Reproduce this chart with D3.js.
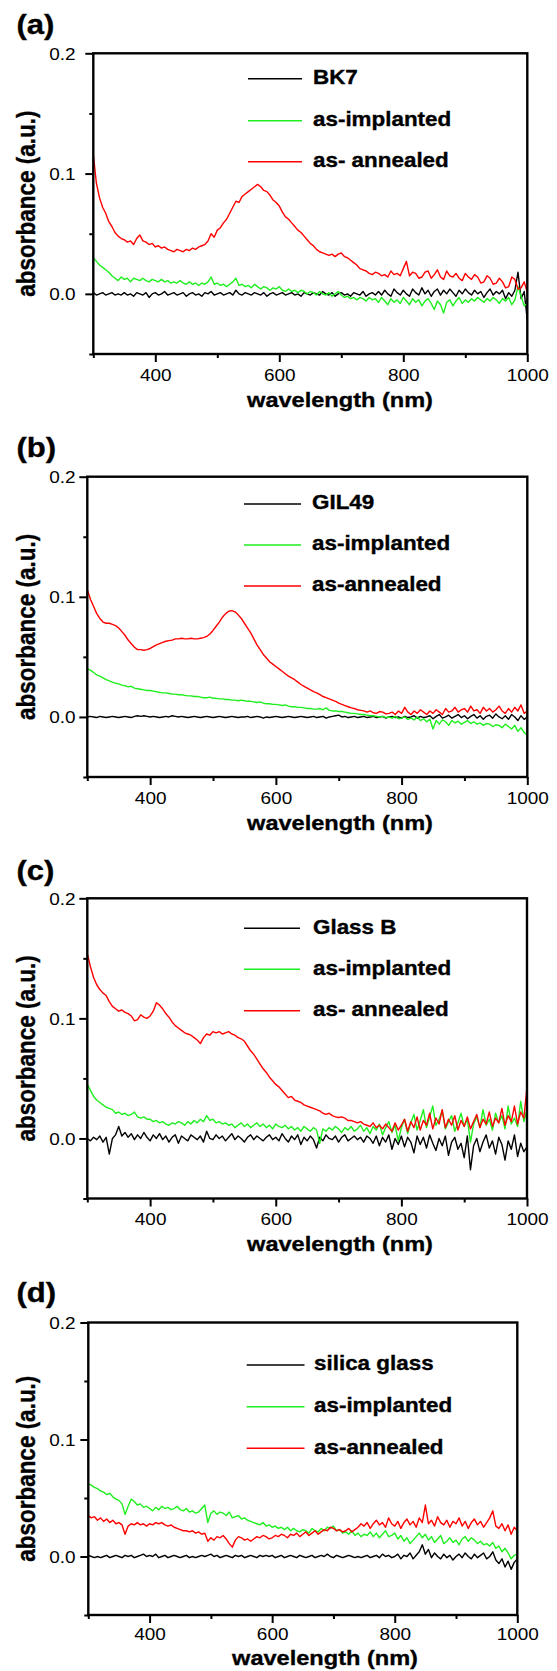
<!DOCTYPE html>
<html><head><meta charset="utf-8">
<script src="https://cdn.jsdelivr.net/npm/d3@7"></script>
<style>
body{margin:0;background:#fff}
svg{display:block}
text{font-family:"Liberation Sans",Arial,Helvetica,sans-serif;fill:#000}
text.heavy{stroke:#000;stroke-width:0.35px}
</style>
</head><body>
<div id="chart"></div>
<script>
// ---------------- DATA ----------------
// wavelength grid (nm), 300..1000 in 5 nm steps
const wavelengths = d3.range(300, 1001, 5);
const xTicksMajor = [400, 600, 800, 1000];
const xTicksMinor = [300, 500, 700, 900];
const yTicksMajor = [0, 0.1, 0.2];
const yTickLabels = ["0.0", "0.1", "0.2"];
const yTicksMinor = [-0.05, 0.05, 0.15];
const panelLetters = ["(a)", "(b)", "(c)", "(d)"];
const legendA = ["BK7", "as-implanted", "as- annealed"];
const legendB = ["GIL49", "as-implanted", "as-annealed"];
const legendC = ["Glass B", "as-implanted", "as- annealed"];
const legendD = ["silica glass", "as-implanted", "as-annealed"];
const xTitle = "wavelength (nm)";
const yTitle = "absorbance (a.u.)";

// absorbance values in units of 10^-3 (a.u.)
const aBlack = [1,-1,0,1,-1,0,1,-1,0,-1, 1,-1,0,-2,1,0,-1,1,-3,0, 1,-1,0,2,-1,0,1,-1,0,1, -2,0,1,-1,0,-2,1,0,2,-1,
  0,1,-1,0,1,-1,3,0,-1,1, 0,-1,1,0,-1,1,-2,0,1,-1, 0,1,-1,0,1,-1,0,-2,1,0, -1,1,0,-1,2,0,-1,1,-2,0,
  1,-1,0,-2,1,0,-1,2,-2,0, 1,-1,2,-1,3,0,-2,4,1,-1, 3,0,-2,4,1,-1,5,0,3,-2, 2,4,-1,3,0,4,1,-2,3,0,
  4,1,-1,3,0,2,-3,1,4,-1, 2,0,3,-4,1,-2,3,18,-4,2, -22];
const aGreen = [30,27,24,22,20,18,15,13,11,14, 12,13,10,13,12,11,13,11,10,12, 11,10,12,10,11,9,10,9,11,9, 8,10,8,9,7,9,8,10,14,8,
  9,7,8,6,8,10,13,7,8,6, 7,5,8,6,4,6,5,3,5,4, 6,3,2,4,2,3,1,3,2,0, 2,1,-1,2,0,-1,1,-2,0,2,
  -1,-3,-2,-4,-3,-5,-3,-4,-6,-3, -5,-4,-7,-3,-6,-9,-4,-7,-5,-8, -3,-6,-9,-4,-7,-5,-10,-6,-4,-8, -13,-6,-9,-16,-7,-5,-10,-6,-3,-8,
  -5,-7,-4,-6,-3,-5,-7,-4,-6,-3, -5,-8,-4,-6,-3,-9,-5,6,-2,-10, -8];
const aRed = [116,92,80,72,67,60,56,51,48,46, 45,43,44,41,46,49,44,43,41,42, 39,40,38,39,37,36,35,37,36,35, 37,36,38,37,39,40,41,44,50,47,
  53,55,59,62,67,72,77,76,81,83, 85,87,89,91,89,86,85,82,78,76, 73,68,64,62,59,56,53,51,48,45, 42,40,37,35,34,33,32,33,31,33,
  34,31,30,28,26,24,21,20,19,17, 16,18,17,15,16,14,19,16,17,15, 21,27,15,18,17,13,14,18,19,13, 16,20,14,12,19,15,14,17,13,11,
  17,14,12,16,14,9,10,15,13,8, 9,13,10,5,6,14,12,4,5,10, 1];

const bBlack = [0,0.5,0,-0.5,0.5,0,-0.5,0,0.5,0, -0.5,0,0.5,0,-0.5,0.5,1,0.5,1,0.5, 0,0.5,0,-0.5,0,0.5,0,1,0.5,0, 0.5,0,-0.5,0,0.5,0,-0.5,0,0.5,0,
  -0.5,0,0.5,0,-0.5,0,0.5,0,-0.5,0, 0,0.5,-0.5,0,0.5,0,-1,0,-0.5,0, 0.5,0,-0.5,0,0.5,0,-0.5,0,0.5,0, -0.5,0,0.5,-0.5,0,0.5,-1,0,0.5,1,
  1.5,0,0.5,-0.5,0,0.5,-0.5,0,0.5,-0.5, 0,0.5,-0.5,0,0.5,-1,0,0.5,-0.5,0, -1,0.5,-0.5,0,1,-1,0.5,-0.5,0,1, -1.5,0.5,2,-1,0,1.5,-1,0.5,2,-0.5,
  1,-1.5,0.5,2,-1,1,-2,0.5,1.5,-1, 2.5,0,-1.5,1,-2,2,0,-3,1,-2, 0];
const bGreen = [40,39,37,35,34,32.5,31,30,29,28, 27.5,26.5,26,25,25.5,24,23.5,23,22.5,22, 22,21.5,21,20.5,20,20,19.5,19,19,18.5, 18.5,18,17.5,17.5,17,17,16.5,16,16,16.5,
  15.5,15.5,15,15,14.5,14.5,14,14,13.5,14, 13.5,13,13,12.5,12,12.5,11.5,11,11,10.5, 10.5,10,9.5,10,9,8.5,8.5,8,8,7.5, 7,7,6.5,6.5,7,6,7.5,5.5,5,5,
  4.5,4.5,4,3.5,3,3,2.5,2,2,1.5, 1,1,0.5,0,0.5,-0.5,0,-1,0.5,-1.5, -1,0,-2,-1,-2.5,0,-3,-1.5,-4,-2, -10,-3,-6,-2.5,-4,-7,-3,-5,-3.5,-6,
  -4.5,-3,-5.5,-4,-6,-5,-7,-5.5,-6,-8, -6.5,-7,-9,-6,-8,-10,-7,-12,-9,-13, -15];
const bRed = [106,98,92,86,82,79,78,78,77,76, 74,71,68,64,61,58,56,56,55.5,56, 57,58.5,60,61,62,63,63.5,64,65,65, 65.5,65,65,65.5,65,65,65.5,66,67,69,
  72,75.5,79,83,86,88,88.5,87.5,85,82, 78,74,70,65,60,56,52,49,46,44, 42,40,38,36,34,32.5,31,29,27,25.5, 24,22.5,21,20,18.5,17,16,15,14,13,
  11.5,10.5,9.5,8.5,7.5,7,6,5.5,5,4, 5,3.5,3,4.5,4,2.5,3,4,2,5, 3,8,4,2,5,3,6,4,2,5, 3,6,4,2,7,4,5,8,4,6,
  7,4,9,5,6,3,8,5,7,4, 6,9,5,3,7,4,8,5,10,3, 5];

const cBlack = [0,-2,1,-1,2,-3,1,-13,0,3, 10,2,5,1,4,-1,3,0,5,1, -2,3,0,4,-1,2,-3,1,3,-4, 2,0,-2,3,1,-1,2,-3,6,0,
  -1,3,0,2,-2,1,4,-1,2,0, -3,1,3,-1,2,0,-2,1,3,-1, 1,-2,4,0,-3,2,-1,3,-5,1, -2,2,-1,-8,1,-2,3,0,-1,2,
  -3,1,3,-2,0,2,-1,1,-3,2, 0,-4,2,-6,1,-3,3,-9,0,-5, 2,-7,1,-3,-12,2,-5,1,-8,3, -4,-10,0,-6,2,-14,-3,1,-9,-4,
  -16,2,-26,-6,0,-11,-3,3,-8,-2, -13,1,-5,-18,-2,-9,3,-15,-4,-11, -7];
const cGreen = [45,40,35,32,30,28,26,25,24,21, 22,20,21,19,20,22,18,17,18,16, 16,14,15,13,14,12,11,13,12,14, 13,11,14,12,15,13,16,14,19,15,
  16,13,14,12,13,11,12,9,11,13, 10,12,9,11,13,10,12,9,11,8, 12,10,9,11,8,10,7,9,6,10, 8,6,9,7,-4,8,6,9,7,10,
  8,5,9,7,10,6,8,11,6,9, 4,10,7,12,3,9,14,5,11,-2, 9,16,4,13,20,7,15,24,9,18, 27,11,16,23,8,14,19,6,13,21,
  10,16,-3,12,18,9,24,11,16,7, 21,13,19,8,27,12,17,10,31,14, 24];
const cRed = [154,143,134,128,124,121,119,114,110,108, 106,107,105,104,102,98,99,103,101,100, 102,106,113,111,108,104,101,97,94,92, 90,88,87,86,84,82,79,84,87,86,
  89,88,89,87,88,89,87,86,84,83, 81,77,73,70,66,62,58,55,51,48, 45,43,40,37,34,35,32,31,30,28, 27,26,25,24,23,21,20,21,19,18,
  17.5,18,17,15,15,14,13,14,12,11, 10,13,9,11,8,12,9,6,13,7, 11,16,6,14,9,18,7,15,11,21, 8,17,12,24,9,16,11,19,7,15,
  10,18,8,14,20,9,16,12,22,10, 17,13,25,11,19,14,27,12,22,17, 43];

const dBlack = [1,0,-1,0,-1,0,1,-1,0,1, 0,-1,1,0,1,-1,0,1,2,0, 1,0,2,-1,0,1,-1,0,1,0, -1,0,1,-1,0,-1,0,1,0,1,
  2,0,1,-1,0,1,0,-1,1,0, 1,-1,0,1,0,-1,1,0,1,0, 1,-1,0,1,-1,0,1,0,-1,1, 0,-1,0,1,-1,0,1,0,2,0,
  -1,1,0,-1,0,1,0,-1,0,-1, 0,1,-1,0,1,-1,2,0,1,-1, 0,2,-2,1,0,3,-2,1,4,10, 2,6,-1,3,0,-2,2,-1,1,-3,
  0,2,-1,3,0,-2,2,-1,1,3, -2,0,4,-3,-6,-2,-9,-4,-11,-5, -2];
const dGreen = [62,61,59,58,56,55,53,54,51,49, 48,45,36,43,49,47,44,45,42,43, 41,39,42,40,43,41,42,40,41,43, 40,39,41,38,39,37,38,41,44,29,
  37,39,36,38,37,35,38,33,34,35, 32,33,31,30,29,28,27,29,26,27, 25,26,24,25,23,25,22,24,22,21, 23,22,20,24,22,21,24,22,25,24,
  26,22,23,20,21,19,22,18,20,17, 19,18,21,17,20,16,19,22,17,18, 20,15,18,13,16,11,14,17,20,16, 19,14,17,12,15,18,11,13,16,12,
  14,10,15,17,13,16,14,11,13,10, 11,9,12,7,9,4,7,3,-2,1, 2];
const dRed = [35,33,34,31,33,30,32,29,31,28, 29,27,19,26,28,27,29,27,28,26, 28,27,29,28,29,27,26,27,25,24, 23,22,22,21,22,20,21,19,20,13,
  16,14,17,16,18,15,11,8,14,17, 16,14,15,13,15,17,16,18,17,15, 16,18,17,19,18,16,19,18,20,17, 19,21,18,20,22,19,21,23,22,25,
  24,22,23,21,22,24,21,23,25,28, 26,29,24,28,31,27,29,25,33,28, 26,30,24,29,32,27,30,25,33,29, 44,28,31,26,34,29,27,31,25,30,
  28,33,26,30,24,29,32,27,30,25, 29,33,39,26,24,28,22,27,19,25, 22];

// ---------------- LAYOUT / STYLE ----------------
const W = 557, H = 1671;
const colors = ["#000000", "#1fee1f", "#ff0000"];
const sx = 1.15; // horizontal stretch of the original figure's lettering
const panels = [
  {letter: panelLetters[0], legend: legendA, series: [aBlack, aGreen, aRed],
   left: 93.3, right: 527.3, top: 53.3, bottom: 354, labelY: 34,
   lgX1: 248, lgX2: 302, lgTX: 313, lgY: [78.7, 120.7, 161.7], tickDy: 21, titleDy: 46, titleX: 340},
  {letter: panelLetters[1], legend: legendB, series: [bBlack, bGreen, bRed],
   left: 87.3, right: 527.3, top: 476.7, bottom: 777, labelY: 457,
   lgX1: 244, lgX2: 301, lgTX: 312, lgY: [504, 545, 586], tickDy: 21, titleDy: 46, titleX: 340},
  {letter: panelLetters[2], legend: legendC, series: [cBlack, cGreen, cRed],
   left: 87.3, right: 527, top: 898.3, bottom: 1198.5, labelY: 880,
   lgX1: 244, lgX2: 300, lgTX: 313, lgY: [928.3, 969.3, 1010.7], tickDy: 21, titleDy: 46, titleX: 340},
  {letter: panelLetters[3], legend: legendD, series: [dBlack, dGreen, dRed],
   left: 88.3, right: 517.3, top: 1322.5, bottom: 1615, labelY: 1302,
   lgX1: 246.7, lgX2: 304.5, lgTX: 314, lgY: [1365, 1406.7, 1448.3], tickDy: 19, titleDy: 43, titleX: 325}
];
const fs = {tick: 16.5, legend: 19.5, xTitle: 20.5, yTitle: 22.5, letter: 27};

const svg = d3.select("#chart").append("svg").attr("width", W).attr("height", H);

panels.forEach((p, pi) => {
  const x = d3.scaleLinear().domain([300, 1000]).range([p.left, p.right]);
  const y = d3.scaleLinear().domain([-0.05, 0.2]).range([p.bottom, p.top]);
  const g = svg.append("g");

  // clip
  const cid = "clip" + pi;
  svg.append("clipPath").attr("id", cid).append("rect")
    .attr("x", p.left).attr("y", p.top).attr("width", p.right - p.left).attr("height", p.bottom - p.top);

  // curves
  const line = d3.line().x((d, i) => x(wavelengths[i])).y(d => y(d / 1000));
  const cg = g.append("g").attr("clip-path", `url(#${cid})`);
  p.series.forEach((s, si) => {
    cg.append("path").datum(s).attr("d", line)
      .attr("fill", "none").attr("stroke", colors[si]).attr("stroke-width", 1.4)
      .attr("stroke-linejoin", "round");
  });

  // x axis: major and minor ticks
  const xAxis = g.append("g").attr("transform", `translate(0,${p.bottom})`)
    .call(d3.axisBottom(x).tickValues(xTicksMajor).tickSize(8).tickSizeOuter(0).tickFormat(d3.format("d")));
  xAxis.select(".domain").remove();
  xAxis.selectAll("line").attr("stroke", "#000").attr("stroke-width", 2);
  xAxis.selectAll("text").attr("y", null).attr("dy", null)
    .attr("font-size", fs.tick).attr("font-family", null).attr("text-anchor", "middle")
    .attr("transform", `translate(0,${p.tickDy + 0.358 * fs.tick}) scale(${sx},1)`);
  const xMinor = g.append("g").attr("transform", `translate(0,${p.bottom})`)
    .call(d3.axisBottom(x).tickValues(xTicksMinor).tickSize(4).tickSizeOuter(0).tickFormat(""));
  xMinor.select(".domain").remove();
  xMinor.selectAll("line").attr("stroke", "#000").attr("stroke-width", 2);

  // y axis
  const yAxis = g.append("g").attr("transform", `translate(${p.left},0)`)
    .call(d3.axisLeft(y).tickValues(yTicksMajor).tickSize(8).tickSizeOuter(0)
      .tickFormat((d, i) => yTickLabels[i]));
  yAxis.select(".domain").remove();
  yAxis.selectAll("line").attr("stroke", "#000").attr("stroke-width", 2);
  yAxis.selectAll("text").attr("x", null).attr("dy", null)
    .attr("font-size", fs.tick).attr("font-family", null).attr("text-anchor", "end")
    .attr("transform", `translate(${75.5 - p.left},${0.358 * fs.tick}) scale(${sx},1)`);
  const yMinor = g.append("g").attr("transform", `translate(${p.left},0)`)
    .call(d3.axisLeft(y).tickValues(yTicksMinor).tickSize(4).tickSizeOuter(0).tickFormat(""));
  yMinor.select(".domain").remove();
  yMinor.selectAll("line").attr("stroke", "#000").attr("stroke-width", 2);

  // frame
  g.append("rect").attr("x", p.left).attr("y", p.top)
    .attr("width", p.right - p.left).attr("height", p.bottom - p.top)
    .attr("fill", "none").attr("stroke", "#000").attr("stroke-width", 2.4);

  // legend
  p.legend.forEach((name, li) => {
    const ly = p.lgY[li];
    g.append("line").attr("x1", p.lgX1).attr("x2", p.lgX2).attr("y1", ly).attr("y2", ly)
      .attr("stroke", colors[li]).attr("stroke-width", 1.6);
    g.append("text").attr("class", "heavy")
      .attr("transform", `translate(${p.lgTX},${ly + 0.27 * fs.legend}) scale(${sx},1)`)
      .attr("font-size", fs.legend).attr("font-weight", "bold").text(name);
  });

  // titles
  g.append("text").attr("class", "heavy")
    .attr("transform", `translate(${p.titleX},${p.bottom + p.titleDy + 0.33 * fs.xTitle}) scale(${sx},1)`)
    .attr("text-anchor", "middle").attr("font-size", fs.xTitle).attr("font-weight", "bold").text(xTitle);
  g.append("text").attr("class", "heavy")
    .attr("transform", `translate(${26.5 + 0.33 * fs.yTitle * sx},${(p.top + p.bottom) / 2}) scale(${sx},1) rotate(-90)`)
    .attr("text-anchor", "middle").attr("font-size", fs.yTitle).attr("font-weight", "bold").text(yTitle);

  // panel letter
  g.append("text").attr("class", "heavy")
    .attr("transform", `translate(16.5,${p.labelY}) scale(${sx},1)`)
    .attr("font-size", fs.letter).attr("font-weight", "bold").text(p.letter);
});
</script>
</body></html>
